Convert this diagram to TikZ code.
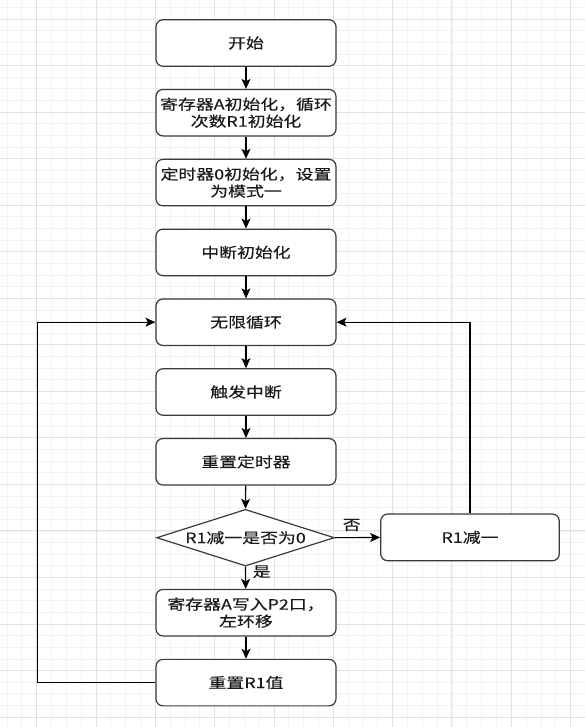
\documentclass[tikz,border=0pt]{standalone}
\usepackage{fontspec}
\setmainfont{Noto Sans CJK SC}[FakeStretch=1.25,FakeBold=0.3]
\usetikzlibrary{arrows.meta,shapes.geometric}
\definecolor{minorg}{HTML}{F3F3F3}
\definecolor{majorg}{HTML}{E2E2E2}
\definecolor{edgec}{HTML}{3A3A3A}
\definecolor{txtc}{HTML}{1A1A1A}
\begin{document}
\begin{tikzpicture}[x=1pt,y=-1pt,
  txt/.style={text=txtc,font=\fontsize{14.3pt}{17pt}\selectfont},
  box/.style={txt,draw=edgec,line width=1.2pt,rounded corners=7pt,fill=white,
    minimum width=180pt,minimum height=46.5pt,inner sep=1pt,align=center},
  decision/.style={draw=edgec,line width=1.2pt,diamond,fill=white,
    minimum width=177.6pt,minimum height=56.7pt,inner sep=0pt},
  lbl/.style={txt,inner sep=0pt},
  arr/.style={draw=black,line width=1.1pt,-{Stealth[length=10pt,width=9pt,inset=2.5pt]}}]
\useasboundingbox (0,0) rectangle (585,727);
\fill[white] (0,0) rectangle (585,727);
% grid
\foreach \i in {0,...,39} {\draw[minorg,line width=0.8pt] ({7.04+14.83*\i},0) -- ({7.04+14.83*\i},727);}
\foreach \j in {0,...,62} {\draw[minorg,line width=0.8pt] (0,{7.4+11.635*\j}) -- (585,{7.4+11.635*\j});}
\foreach \i in {0,...,9} {\draw[majorg,line width=0.9pt] ({36.7+59.32*\i},0) -- ({36.7+59.32*\i},727);}
\foreach \j in {0,...,15} {\draw[majorg,line width=0.9pt] (0,{19+46.54*\j}) -- (585,{19+46.54*\j});}
% nodes
\node[box] (start) at (246,43) {开始};
\node[box] (initA) at (246,112.7) {寄存器A初始化，循环\\次数R1初始化};
\node[box] (timer) at (246,182.6) {定时器0初始化，设置\\为模式一};
\node[box] (intinit) at (246,252.4) {中断初始化};
\node[box] (loop) at (246,322.2) {无限循环};
\node[box] (trig) at (246,392) {触发中断};
\node[box] (rtimer) at (246,461.8) {重置定时器};
\node[decision,label={[lbl]center:R1减一是否为0}] (dec) at (245.5,537.7) {};
\node[box,minimum width=178.6pt,minimum height=46.7pt] (r1) at (470,537.4) {R1减一};
\node[box] (write) at (246,612.7) {寄存器A写入P2口，\\左环移};
\node[box] (reset) at (246,682.6) {重置R1值};
\node[lbl] (no) at (351.7,525) {否};
\node[lbl] (yes) at (261.7,571.7) {是};
\coordinate (lc) at (37.3,682.6);
% connectors
\draw[arr] (start) -- (initA);
\draw[arr] (initA) -- (timer);
\draw[arr] (timer) -- (intinit);
\draw[arr] (intinit) -- (loop);
\draw[arr] (loop) -- (trig);
\draw[arr] (trig) -- (rtimer);
\draw[arr] (rtimer) -- (dec.north);
\draw[arr] (dec.east) -- (r1.west);
\draw[arr] (dec.south) -- (write);
\draw[arr] (write) -- (reset);
\draw[arr] (r1.north) |- (loop.east);
\draw[arr] (reset.west) -- (lc) |- (loop.west);
\end{tikzpicture}
\end{document}
